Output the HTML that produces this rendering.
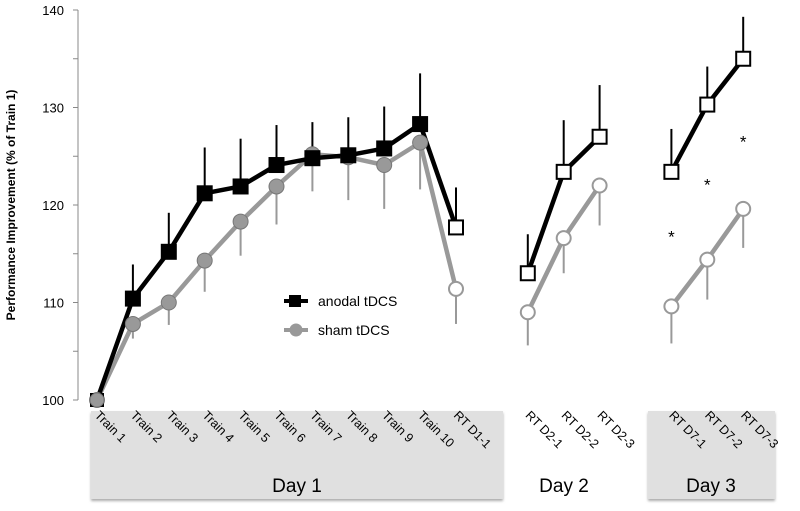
<!DOCTYPE html>
<html><head><meta charset="utf-8"><style>
body{margin:0;background:#fff;width:800px;height:511px;overflow:hidden}
svg{display:block;font-family:"Liberation Sans",sans-serif}
</style></head><body>
<svg id="chart" width="800" height="511" viewBox="0 0 800 511">
<defs><filter id="sh" x="-5%" y="-5%" width="110%" height="115%"><feDropShadow dx="0" dy="2" stdDeviation="1.2" flood-color="#888" flood-opacity="0.7"/></filter></defs>
<g><rect x="91" y="411" width="412" height="88" fill="#e0e0e0" filter="url(#sh)"/><text x="297" y="492" font-size="19" text-anchor="middle">Day 1</text></g>
<g><text x="564" y="492" font-size="19" text-anchor="middle">Day 2</text></g>
<g><rect x="648" y="411" width="127" height="88" fill="#e0e0e0" filter="url(#sh)"/><text x="711" y="492" font-size="19" text-anchor="middle">Day 3</text></g>
<text transform="translate(15,205) rotate(-90)" font-size="12" font-weight="bold" text-anchor="middle">Performance Improvement (% of  Train 1)</text>
<g id="axis"></g>
<g id="marks"></g>
<g>
<g><line x1="284" y1="301" x2="308" y2="301" stroke="#000" stroke-width="4"/><rect x="289" y="295" width="12" height="12" fill="#000"/><text x="318" y="306" font-size="14">anodal tDCS</text></g>
<g><line x1="284" y1="330" x2="308" y2="330" stroke="#999" stroke-width="4"/><circle cx="296" cy="330" r="6.5" fill="#999"/><text x="318" y="335" font-size="14">sham tDCS</text></g>
</g>
</svg>
<script>
const categories=["Train 1","Train 2","Train 3","Train 4","Train 5","Train 6","Train 7","Train 8","Train 9","Train 10","RT D1-1","RT D2-1","RT D2-2","RT D2-3","RT D7-1","RT D7-2","RT D7-3"];
const slots=[0,1,2,3,4,5,6,7,8,9,10,12,13,14,16,17,18];
const anodal=[100,110.4,115.2,121.2,121.9,124.1,124.8,125.1,125.8,128.3,117.7,113,123.4,127,123.4,130.3,135];
const anodalErr=[0,3.5,4,4.7,4.9,4.1,3.7,3.9,4.3,5.2,4.1,4,5.3,5.3,4.4,3.9,4.3];
const sham=[100,107.8,110,114.3,118.3,121.9,125.2,124.9,124.1,126.4,111.4,109,116.6,122,109.6,114.4,119.6];
const shamErr=[0,1.5,2.3,3.2,3.5,3.9,3.8,4.4,4.5,4.8,3.6,3.4,3.6,4.1,3.8,4.1,4];
const openPoint=[0,0,0,0,0,0,0,0,0,0,1,1,1,1,1,1,1];
const segments=[[0,10],[11,13],[14,16]];
const yTicks=[100,110,120,130,140];
const stars=[[14,117],[15,122.3],[16,126.7]];
const NS="http://www.w3.org/2000/svg";
const X=s=>97+s*35.9, Y=v=>400-(v-100)*9.75;
function mk(t,a,p){const e=document.createElementNS(NS,t);for(const k in a)e.setAttribute(k,a[k]);(p||document.getElementById('marks')).appendChild(e);return e;}
const ax=document.getElementById('axis');
let al=mk('line',{x1:78,y1:Y(140),x2:78,y2:Y(100),stroke:'#888','stroke-width':1},ax);


for(let v=100;v<=140;v+=5){let t=mk('line',{x1:73,x2:78,y1:Y(v),y2:Y(v),stroke:'#888'},ax);}
yTicks.forEach(v=>{let t=mk('text',{x:64,y:Y(v)+5,'font-size':13,'text-anchor':'end'},ax);t.textContent=v;});
categories.forEach((c,i)=>{let t=mk('text',{transform:`translate(${X(slots[i])-3},416) rotate(45)`,'font-size':12.5},ax);t.textContent=c;});
categories.forEach((c,i)=>{if(!anodalErr[i])return;
let e=mk('line',{x1:X(slots[i]),x2:X(slots[i]),y1:Y(anodal[i]),y2:Y(anodal[i]+anodalErr[i]),stroke:'#000','stroke-width':2});
let f=mk('line',{x1:X(slots[i]),x2:X(slots[i]),y1:Y(sham[i]),y2:Y(sham[i]-shamErr[i]),stroke:'#999','stroke-width':2});});
function series(vals,col,name){segments.forEach(([a,b])=>{let pts=[];for(let i=a;i<=b;i++)pts.push(X(slots[i])+','+Y(vals[i]));let p=mk('polyline',{points:pts.join(' '),fill:'none',stroke:col,'stroke-width':4.5,'stroke-linejoin':'round'});});}
series(sham,'#999','sham');series(anodal,'#000','anodal');
categories.forEach((c,i)=>{const x=X(slots[i]);
let s=mk('circle',{cx:x,cy:Y(sham[i]),r:openPoint[i]?7:7.5,fill:openPoint[i]?'#fff':'#999',stroke:openPoint[i]?'#999':'#777','stroke-width':openPoint[i]?2:1});
if(i===0)return;
let r=mk('rect',{x:x-7,y:Y(anodal[i])-7,width:14,height:14,fill:openPoint[i]?'#fff':'#000',stroke:'#000','stroke-width':2});});
let r0=mk('rect',{x:X(0)-7,y:Y(anodal[0])-7,width:14,height:14,fill:'#000'});
let c0=mk('circle',{cx:X(0),cy:Y(sham[0]),r:7,fill:'#999',stroke:'#777'});
stars.forEach(([s,v])=>{let t=mk('text',{x:X(slots[s]),y:Y(v)+8,'font-size':17,'text-anchor':'middle'});t.textContent='*';});
</script>
</body></html>
